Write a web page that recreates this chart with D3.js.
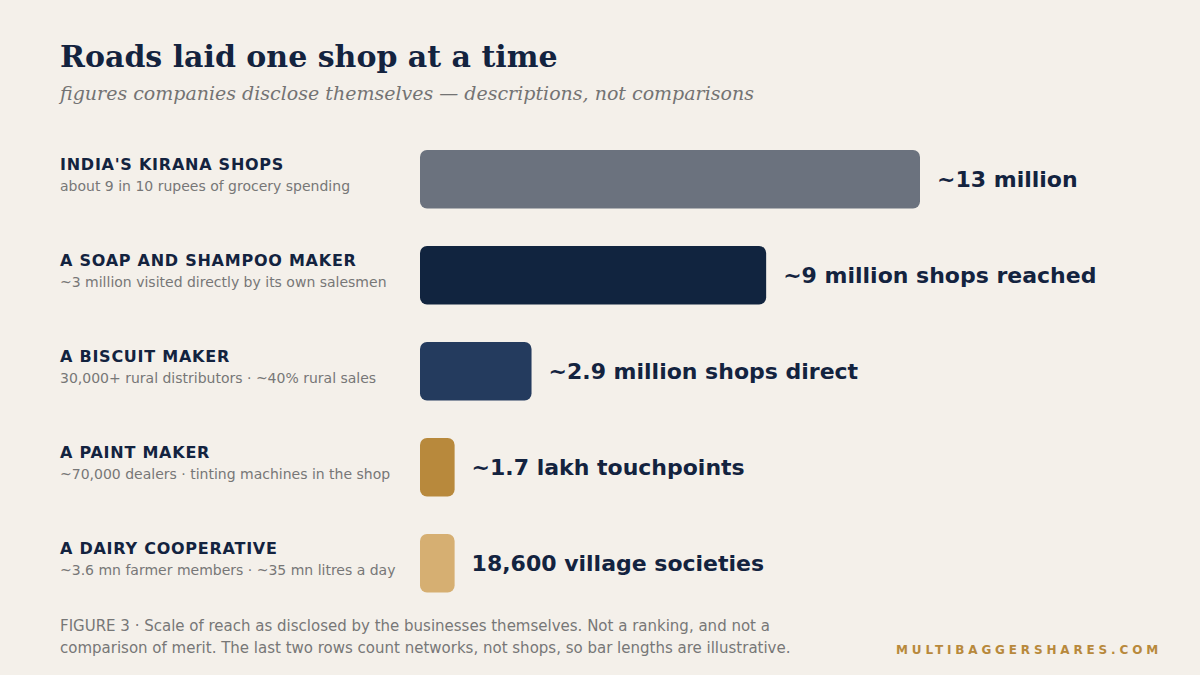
<!DOCTYPE html>
<html><head><meta charset="utf-8">
<script src="https://cdn.jsdelivr.net/npm/d3@7/dist/d3.min.js"></script>
<style>
html,body{margin:0;padding:0;background:#f4f0ea;}
svg{display:block;}
</style></head>
<body>
<svg id="chart" width="1200" height="675"></svg>
<script>
const names = ["INDIA'S KIRANA SHOPS","A SOAP AND SHAMPOO MAKER","A BISCUIT MAKER","A PAINT MAKER","A DAIRY COOPERATIVE"];
const notes = ["about 9 in 10 rupees of grocery spending","~3 million visited directly by its own salesmen","30,000+ rural distributors · ~40% rural sales","~70,000 dealers · tinting machines in the shop","~3.6 mn farmer members · ~35 mn litres a day"];
const values = [13, 9, 2.9, 0.9, 0.9]; // millions; last two illustrative
const valueLabels = ["~13 million","~9 million shops reached","~2.9 million shops direct","~1.7 lakh touchpoints","18,600 village societies"];
const colors = ["#6b727e","#11243f","#243b5e","#b8893c","#d6af72"];

const svg = d3.select("#chart");
svg.append("rect").attr("width",1200).attr("height",675).attr("fill","#f4f0ea");

svg.append("text").attr("x",60).attr("y",67)
  .attr("font-family","DejaVu Serif").attr("font-weight","bold").attr("font-size",30)
  .attr("fill","#13233f").text("Roads laid one shop at a time");
svg.append("text").attr("x",60).attr("y",100)
  .attr("font-family","DejaVu Serif").attr("font-style","italic").attr("font-size",19)
  .attr("fill","#737373").text("figures companies disclose themselves — descriptions, not comparisons");

const x = d3.scaleLinear().domain([0,13]).range([420,920]);
const y = d3.scaleBand().domain(d3.range(names.length)).range([131,611]).paddingInner(0.396).paddingOuter(0.198);

const rows = svg.append("g").selectAll("g").data(names).join("g");
rows.append("text").attr("x",60).attr("y",(d,i)=>y(i)+y.bandwidth()/2-9)
  .attr("font-family","DejaVu Sans").attr("font-weight","bold").attr("font-size",16)
  .attr("letter-spacing",0.75).attr("fill","#13233f").text(d=>d);
rows.append("text").attr("x",60).attr("y",(d,i)=>y(i)+y.bandwidth()/2+12)
  .attr("font-family","DejaVu Sans").attr("font-size",14)
  .attr("fill","#777777").text((d,i)=>notes[i]);
rows.append("rect").attr("x",x(0)).attr("y",(d,i)=>y(i)).attr("height",y.bandwidth()+0.5)
  .attr("width",(d,i)=>x(values[i])-x(0)).attr("rx",7).attr("ry",7)
  .attr("fill",(d,i)=>colors[i]);
rows.append("text").attr("x",(d,i)=>x(values[i])+17).attr("y",(d,i)=>y(i)+y.bandwidth()/2+8)
  .attr("font-family","DejaVu Sans").attr("font-weight","bold").attr("font-size",22)
  .attr("fill","#13233f").text((d,i)=>valueLabels[i]);

const foot = svg.append("text").attr("font-family","DejaVu Sans").attr("font-size",15).attr("fill","#777777");
foot.append("tspan").attr("x",60).attr("y",631).text("FIGURE 3 · Scale of reach as disclosed by the businesses themselves. Not a ranking, and not a");
foot.append("tspan").attr("x",60).attr("y",653).text("comparison of merit. The last two rows count networks, not shops, so bar lengths are illustrative.");

svg.append("text").attr("x",1162).attr("y",654).attr("text-anchor","end")
  .attr("font-family","DejaVu Sans").attr("font-weight","bold").attr("font-size",12)
  .attr("letter-spacing",3.85).attr("fill","#b8893c").text("MULTIBAGGERSHARES.COM");
</script>
</body></html>
